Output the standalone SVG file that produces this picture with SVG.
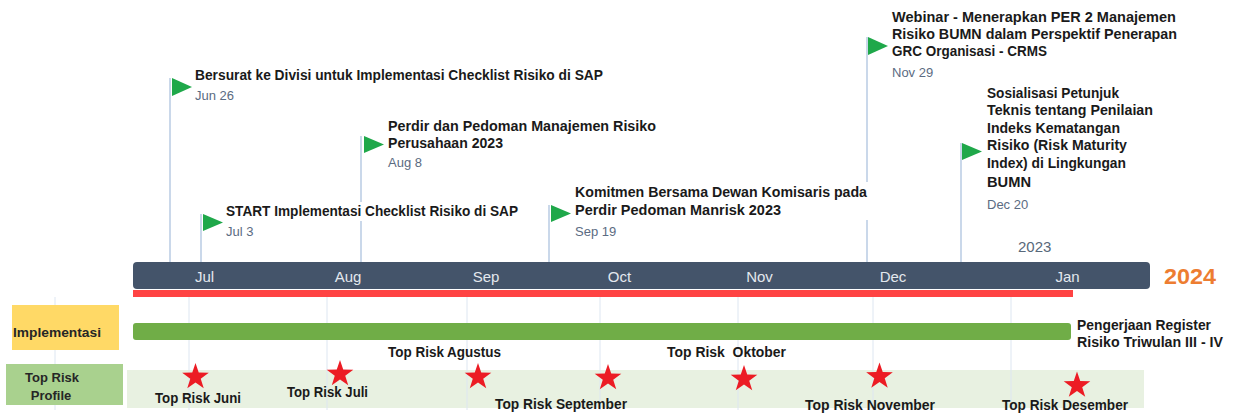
<svg xmlns="http://www.w3.org/2000/svg" width="1241" height="417" viewBox="0 0 1241 417">
<style>
.t{font-family:"Liberation Sans",Arial,sans-serif;font-weight:bold;font-size:14px;fill:#1a1a1a}
.d{font-family:"Liberation Sans",Arial,sans-serif;font-size:13px;fill:#5b6b82}
.m{font-family:"Liberation Sans",Arial,sans-serif;font-size:15px;fill:#e3e8ee;text-anchor:middle}
.s{font-family:"Liberation Sans",Arial,sans-serif;font-weight:bold;font-size:13px;fill:#262626}
.stem{stroke:#aec3df;stroke-width:1.3;fill:none}
.grid{stroke:#dde6f1;stroke-width:1;fill:none}
.flag{fill:#1fa84a}
.star{fill:#ec1c24}
</style>
<defs>
<polygon id="star" points="0,-14 3.23,-4.45 13.31,-4.33 5.23,1.7 8.23,11.33 0,5.5 -8.23,11.33 -5.23,1.7 -13.31,-4.33 -3.23,-4.45"/>
</defs>
<rect width="1241" height="417" fill="#ffffff"/>

<g id="band">
<rect x="127" y="370" width="1017" height="38" fill="#e8f1e1"/>
</g>

<g id="gridlines">
<line class="grid" x1="55" y1="297" x2="55" y2="410"/>
<line class="grid" x1="189" y1="297" x2="189" y2="410"/>
<line class="grid" x1="327" y1="297" x2="327" y2="410"/>
<line class="grid" x1="467" y1="297" x2="467" y2="410"/>
<line class="grid" x1="600" y1="297" x2="600" y2="410"/>
<line class="grid" x1="738" y1="297" x2="738" y2="410"/>
<line class="grid" x1="873" y1="297" x2="873" y2="410"/>
<line class="grid" x1="1011" y1="297" x2="1011" y2="410"/>
</g>

<g id="connectors">
<line class="stem" x1="170" y1="78" x2="170" y2="262"/>
<line class="stem" x1="201" y1="214" x2="201" y2="262"/>
<line class="stem" x1="361" y1="136" x2="361" y2="202"/>
<line class="stem" x1="361" y1="221" x2="361" y2="262"/>
<line class="stem" x1="549" y1="205" x2="549" y2="262"/>
<line class="stem" x1="867" y1="37" x2="867" y2="182"/>
<line class="stem" x1="867" y1="220" x2="867" y2="262"/>
<line class="stem" x1="961" y1="143" x2="961" y2="262"/>
</g>

<g id="timeline">
<rect x="133" y="262" width="1017" height="27" rx="4" fill="#44546a"/>
<rect x="133" y="290" width="940" height="7" fill="#ff4343"/>
<text class="m" x="204.5" y="282">Jul</text>
<text class="m" x="348" y="282">Aug</text>
<text class="m" x="486" y="282">Sep</text>
<text class="m" x="619.5" y="282">Oct</text>
<text class="m" x="759.5" y="282">Nov</text>
<text class="m" x="893" y="282">Dec</text>
<text class="m" x="1067.5" y="282">Jan</text>
<text x="1018" y="252" font-family="Liberation Sans, Arial, sans-serif" font-size="15" fill="#58687a">2023</text>
<text x="1164" y="284" font-family="Liberation Sans, Arial, sans-serif" font-size="22" font-weight="bold" fill="#ed7d31" textLength="52" lengthAdjust="spacingAndGlyphs">2024</text>
</g>

<g id="m-jun26">
<polygon class="flag" points="172,78 192,87 172,96"/>
<text class="t" x="195" y="80" textLength="408" lengthAdjust="spacingAndGlyphs">Bersurat ke Divisi untuk Implementasi Checklist Risiko di SAP</text>
<text class="d" x="195" y="100">Jun 26</text>
</g>

<g id="m-jul3">
<polygon class="flag" points="203,214 223,222.5 203,231"/>
<text class="t" x="226" y="216" textLength="292" lengthAdjust="spacingAndGlyphs">START Implementasi Checklist Risiko di SAP</text>
<text class="d" x="226" y="236">Jul 3</text>
</g>

<g id="m-aug8">
<polygon class="flag" points="364,136 384,144.5 364,153"/>
<text class="t" x="388" y="131" textLength="268" lengthAdjust="spacingAndGlyphs">Perdir dan Pedoman Manajemen Risiko</text>
<text class="t" x="388" y="148" textLength="115" lengthAdjust="spacingAndGlyphs">Perusahaan 2023</text>
<text class="d" x="388" y="167">Aug 8</text>
</g>

<g id="m-sep19">
<polygon class="flag" points="551,205 571,213.5 551,222"/>
<text class="t" x="575" y="197" textLength="292" lengthAdjust="spacingAndGlyphs">Komitmen Bersama Dewan Komisaris pada</text>
<text class="t" x="575" y="215" textLength="206" lengthAdjust="spacingAndGlyphs">Perdir Pedoman Manrisk 2023</text>
<text class="d" x="575" y="236">Sep 19</text>
</g>

<g id="m-nov29">
<polygon class="flag" points="868,37 888,46 868,55"/>
<text class="t" x="892" y="22" textLength="284" lengthAdjust="spacingAndGlyphs">Webinar - Menerapkan PER 2 Manajemen</text>
<text class="t" x="892" y="39" textLength="285" lengthAdjust="spacingAndGlyphs">Risiko BUMN dalam Perspektif Penerapan</text>
<text class="t" x="892" y="56" textLength="155" lengthAdjust="spacingAndGlyphs">GRC Organisasi - CRMS</text>
<text class="d" x="892" y="77">Nov 29</text>
</g>

<g id="m-dec20">
<polygon class="flag" points="962,143 982,151.5 962,160"/>
<text class="t" x="987" y="97.5" textLength="132" lengthAdjust="spacingAndGlyphs">Sosialisasi Petunjuk</text>
<text class="t" x="987" y="115" textLength="166" lengthAdjust="spacingAndGlyphs">Teknis tentang Penilaian</text>
<text class="t" x="987" y="132.5" textLength="133" lengthAdjust="spacingAndGlyphs">Indeks Kematangan</text>
<text class="t" x="987" y="150" textLength="140" lengthAdjust="spacingAndGlyphs">Risiko (Risk Maturity</text>
<text class="t" x="987" y="168" textLength="139" lengthAdjust="spacingAndGlyphs">Index) di Lingkungan</text>
<text class="t" x="987" y="186.5" textLength="44" lengthAdjust="spacingAndGlyphs">BUMN</text>
<text class="d" x="987" y="209">Dec 20</text>
</g>

<g id="implementasi">
<rect x="12" y="305" width="107" height="45" fill="#ffd966"/>
<text class="s" x="13" y="336.5" textLength="88" lengthAdjust="spacingAndGlyphs">Implementasi</text>
<rect x="133" y="323" width="938" height="17" rx="3" fill="#70ad47"/>
<text class="t" x="1077" y="329.5" textLength="134" lengthAdjust="spacingAndGlyphs">Pengerjaan Register</text>
<text class="t" x="1077" y="347" textLength="146" lengthAdjust="spacingAndGlyphs">Risiko Triwulan III - IV</text>
</g>

<g id="top-risk-profile">
<rect x="6" y="364" width="117" height="41" fill="#a9d18e"/>
<text class="s" x="52" y="381.5" text-anchor="middle">Top Risk</text>
<text class="s" x="51" y="400" text-anchor="middle">Profile</text>
</g>

<g id="tr-juni">
<use href="#star" class="star" x="195.5" y="377"/>
<text class="t" x="155" y="403" textLength="86" lengthAdjust="spacingAndGlyphs">Top Risk Juni</text>
</g>
<g id="tr-juli">
<use href="#star" class="star" x="340" y="374"/>
<text class="t" x="287" y="397" textLength="81" lengthAdjust="spacingAndGlyphs">Top Risk Juli</text>
</g>
<g id="tr-agustus">
<use href="#star" class="star" x="478" y="377"/>
<text class="t" x="388" y="357" textLength="113" lengthAdjust="spacingAndGlyphs">Top Risk Agustus</text>
</g>
<g id="tr-september">
<use href="#star" class="star" x="608" y="378"/>
<text class="t" x="495" y="408.5" textLength="132" lengthAdjust="spacingAndGlyphs">Top Risk September</text>
</g>
<g id="tr-oktober">
<use href="#star" class="star" x="744" y="379"/>
<text class="t" x="667" y="357" textLength="119" lengthAdjust="spacingAndGlyphs" xml:space="preserve">Top Risk  Oktober</text>
</g>
<g id="tr-november">
<use href="#star" class="star" x="879.5" y="376.5"/>
<text class="t" x="805" y="410" textLength="130" lengthAdjust="spacingAndGlyphs">Top Risk November</text>
</g>
<g id="tr-desember">
<use href="#star" class="star" x="1077" y="385.5"/>
<text class="t" x="1002" y="410" textLength="126" lengthAdjust="spacingAndGlyphs">Top Risk Desember</text>
</g>
</svg>
